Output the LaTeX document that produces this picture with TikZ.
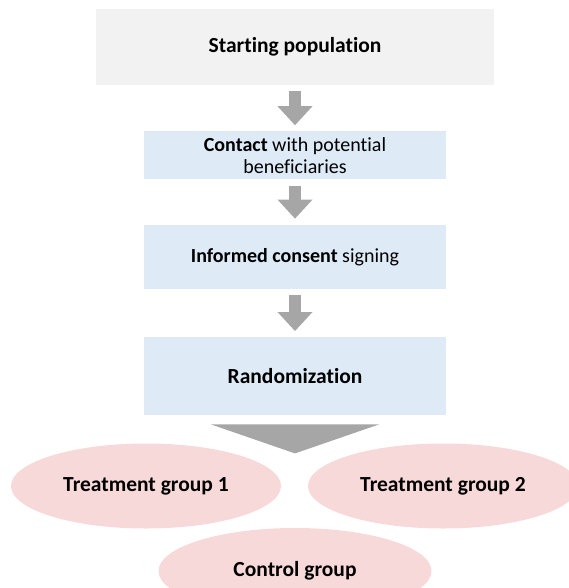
\documentclass[tikz,border=0pt]{standalone}
\usepackage{fontspec}
\setmainfont{Carlito}[Ligatures=NoCommon]
\usetikzlibrary{shapes.geometric,arrows.meta,positioning,calc}
\definecolor{startgray}{RGB}{242,242,242}
\definecolor{stepblue}{RGB}{222,235,247}
\definecolor{grouppink}{RGB}{248,217,218}
\definecolor{arrowgray}{RGB}{166,166,166}

\begin{document}
\begin{tikzpicture}[
  x=1pt, y=-1pt,
  node distance=46pt,
  stepbox/.style={fill=stepblue, minimum width=302pt, inner sep=0pt, align=center, font=\fontsize{20}{22}\selectfont},
  group/.style={ellipse, fill=grouppink, minimum width=270pt, minimum height=85pt, inner sep=0pt, font=\fontsize{21.5}{24}\selectfont\bfseries},
  flow/.style={arrowgray, line width=12pt, shorten <=6pt, shorten >=6pt, -{Triangle[length=19pt,width=35pt,line width=0pt]}}
]
\useasboundingbox (0,0) rectangle (569,588);
\clip (0,0) rectangle (569,588);
\node[fill=startgray, minimum width=398pt, minimum height=76pt, inner sep=0pt, font=\fontsize{21.5}{24}\selectfont\bfseries] (start) at (295,47) {Starting population};
\node[stepbox, minimum height=48pt, below=of start] (contact) {\textbf{Contact} with potential\\beneficiaries};
\node[stepbox, minimum height=64pt, below=45pt of contact] (consent) {\textbf{Informed consent} signing};
\node[stepbox, minimum height=78pt, below=48pt of consent, font=\fontsize{21.5}{24}\selectfont\bfseries] (rand) {Randomization};
\draw[flow] (start) -- (contact);
\draw[flow] (contact) -- (consent);
\draw[flow] (consent) -- (rand);
% wedge down to the groups
\fill[arrowgray] ($(rand.south)+(-84,9)$) -- ($(rand.south)+(84,9)$) -- ($(rand.south)+(0,38)$) -- cycle;
\node[group] (treat1) at (146,486) {Treatment group 1};
\node[group] (treat2) at (443,486) {Treatment group 2};
\node[group, minimum width=273pt, minimum height=86pt] (control) at (295,571) {Control group};
\end{tikzpicture}
\end{document}
